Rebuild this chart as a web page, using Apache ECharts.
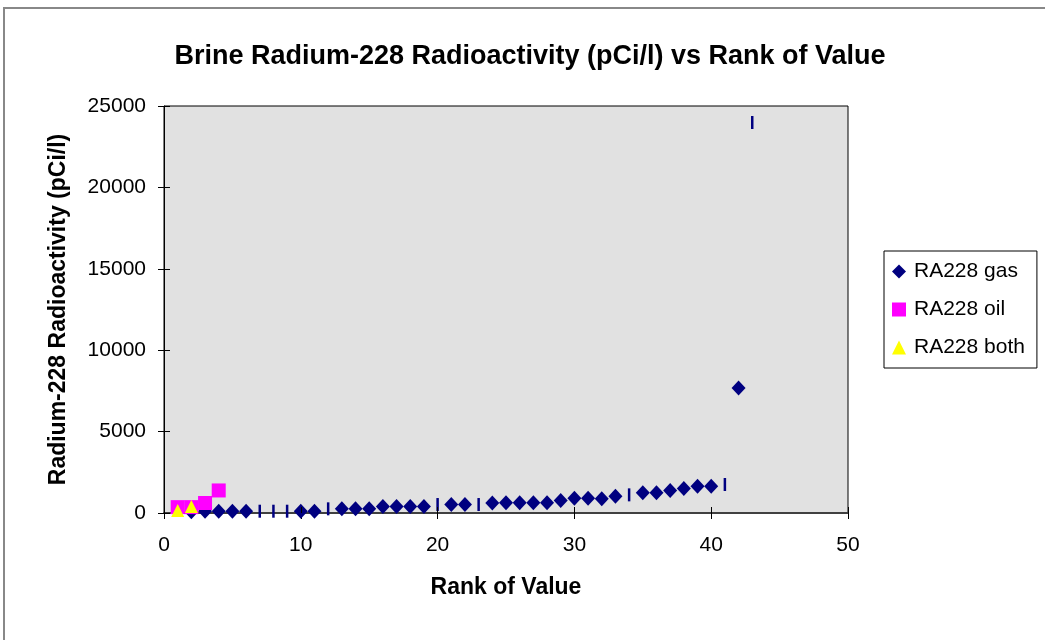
<!DOCTYPE html>
<html>
<head>
<meta charset="utf-8">
<title>Brine Radium-228</title>
<script src="https://cdn.jsdelivr.net/npm/echarts@6/dist/echarts.min.js"></script>
<style>
  html, body { margin: 0; padding: 0; background: #fff; }
  #chartBox { width: 1045px; height: 640px; }
</style>
</head>
<body>
<div id="chartBox"></div>
<script>
  // rank / value pairs
  var gasRank  = [2, 3, 4, 5, 6, 10, 11, 13, 14, 15, 16, 17, 18, 19, 21, 22, 24, 25, 26, 27, 28, 29, 30, 31, 32, 33, 35, 36, 37, 38, 39, 40, 42];
  var gasValue = [80, 110, 110, 110, 110, 110, 110, 256, 256, 256, 400, 400, 400, 400, 520, 520, 610, 625, 625, 625, 625, 770, 910, 910, 870, 1035, 1240, 1240, 1385, 1505, 1650, 1650, 7680];

  // gas points drawn with the bar marker
  var gasBarRank  = [7, 8, 9, 12, 20, 23, 34, 41, 43];
  var gasBarValue = [110, 110, 110, 256, 520, 520, 1115, 1750, 23985];

  var oilRank  = [1, 2, 3, 4];
  var oilValue = [360, 360, 615, 1385];

  var bothRank  = [1, 2];
  var bothValue = [150, 400];

  var xTicks = [0, 10, 20, 30, 40, 50];
  var yTicks = [0, 5000, 10000, 15000, 20000, 25000];

  function pairs(xs, ys) {
    return xs.map(function (x, i) { return [x, ys[i]]; });
  }

  var font = "'Liberation Sans', Arial, sans-serif";
  var chart = echarts.init(document.getElementById('chartBox'));

  var gridPos = { left: 164, right: 197, top: 106, bottom: 127 };

  var option = {
    animation: false,
    textStyle: { fontFamily: font },
    title: {
      text: 'Brine Radium-228 Radioactivity (pCi/l) vs Rank of Value',
      left: 525,
      textAlign: 'center',
      top: 38,
      textStyle: { fontFamily: font, fontSize: 27, fontWeight: 'bold', color: '#000' }
    },
    graphic: [{
      type: 'rect',
      shape: { x: 4, y: 8, width: 1100, height: 700 },
      style: { fill: 'none', stroke: '#888', lineWidth: 2 },
      silent: true
    }],
    legend: {
      orient: 'vertical',
      left: 884,
      top: 251,
      padding: [10, 12, 10, 8],
      itemGap: 17,
      itemWidth: 14,
      itemHeight: 14,
      borderColor: '#000',
      borderWidth: 1,
      data: ['RA228 gas', 'RA228 oil', 'RA228 both'],
      textStyle: { fontFamily: font, fontSize: 21, color: '#000', padding: [0, 0, 0, 3] }
    },
    grid: [
      {
        left: gridPos.left, right: gridPos.right, top: gridPos.top, bottom: gridPos.bottom,
        show: true,
        backgroundColor: '#E1E1E1',
        borderColor: '#000',
        borderWidth: 1
      },
      // same box again, only for the inner half of the crossing ticks
      { left: gridPos.left, right: gridPos.right, top: gridPos.top, bottom: gridPos.bottom }
    ],
    xAxis: [{
      type: 'value',
      gridIndex: 0,
      min: 0, max: 50, interval: 10,
      name: 'Rank of Value',
      nameLocation: 'middle',
      nameGap: 63,
      nameTextStyle: { fontFamily: font, fontSize: 23, fontWeight: 'bold', color: '#000' },
      axisLine: { show: true, lineStyle: { color: '#404040', width: 2 } },
      axisTick: { show: true, length: 6, lineStyle: { color: '#000' } },
      axisLabel: { margin: 22, fontSize: 21, color: '#000', fontFamily: font },
      splitLine: { show: false }
    }, {
      type: 'value',
      gridIndex: 1,
      z: 5,
      min: 0, max: 50, interval: 10,
      axisLine: { show: false, onZero: false },
      axisTick: { show: true, inside: true, length: 6, lineStyle: { color: '#000', width: 1 } },
      axisLabel: { show: false },
      splitLine: { show: false }
    }],
    yAxis: [{
      type: 'value',
      gridIndex: 0,
      min: 0, max: 25000, interval: 5000,
      name: 'Radium-228 Radioactivity (pCi/l)',
      nameLocation: 'middle',
      nameGap: 94,
      nameTextStyle: { fontFamily: font, fontSize: 23, fontWeight: 'bold', color: '#000' },
      axisLine: { show: true, lineStyle: { color: '#000', width: 1 } },
      axisTick: { show: true, length: 6, lineStyle: { color: '#000' } },
      axisLabel: {
        margin: 18, fontSize: 21, color: '#000', fontFamily: font,
        formatter: function (v) { return String(v); }
      },
      splitLine: { show: false }
    }, {
      type: 'value',
      gridIndex: 1,
      z: 5,
      min: 0, max: 25000, interval: 5000,
      axisLine: { show: false, onZero: false },
      axisTick: { show: true, inside: true, length: 6, lineStyle: { color: '#000', width: 1 } },
      axisLabel: { show: false },
      splitLine: { show: false }
    }],
    series: [
      {
        name: 'RA228 gas',
        type: 'scatter',
        symbol: 'diamond',
        symbolSize: [14, 15],
        itemStyle: { color: '#000080', opacity: 1 },
        data: pairs(gasRank, gasValue)
      },
      {
        name: 'RA228 gas bar',
        type: 'scatter',
        symbol: 'rect',
        symbolSize: [2.5, 13],
        itemStyle: { color: '#000080', opacity: 1 },
        data: pairs(gasBarRank, gasBarValue)
      },
      {
        name: 'RA228 oil',
        type: 'scatter',
        symbol: 'rect',
        symbolSize: 14,
        itemStyle: { color: '#FF00FF', opacity: 1 },
        data: pairs(oilRank, oilValue)
      },
      {
        name: 'RA228 both',
        type: 'scatter',
        symbol: 'triangle',
        symbolSize: 13,
        itemStyle: { color: '#FFFF00', opacity: 1 },
        data: pairs(bothRank, bothValue)
      },
      {
        // empty series so the tick-only axes of the second grid are laid out
        name: 'ticks',
        type: 'scatter',
        xAxisIndex: 1,
        yAxisIndex: 1,
        data: []
      }
    ]
  };

  chart.setOption(option);
  window.onresize = chart.resize;
</script>
</body>
</html>
